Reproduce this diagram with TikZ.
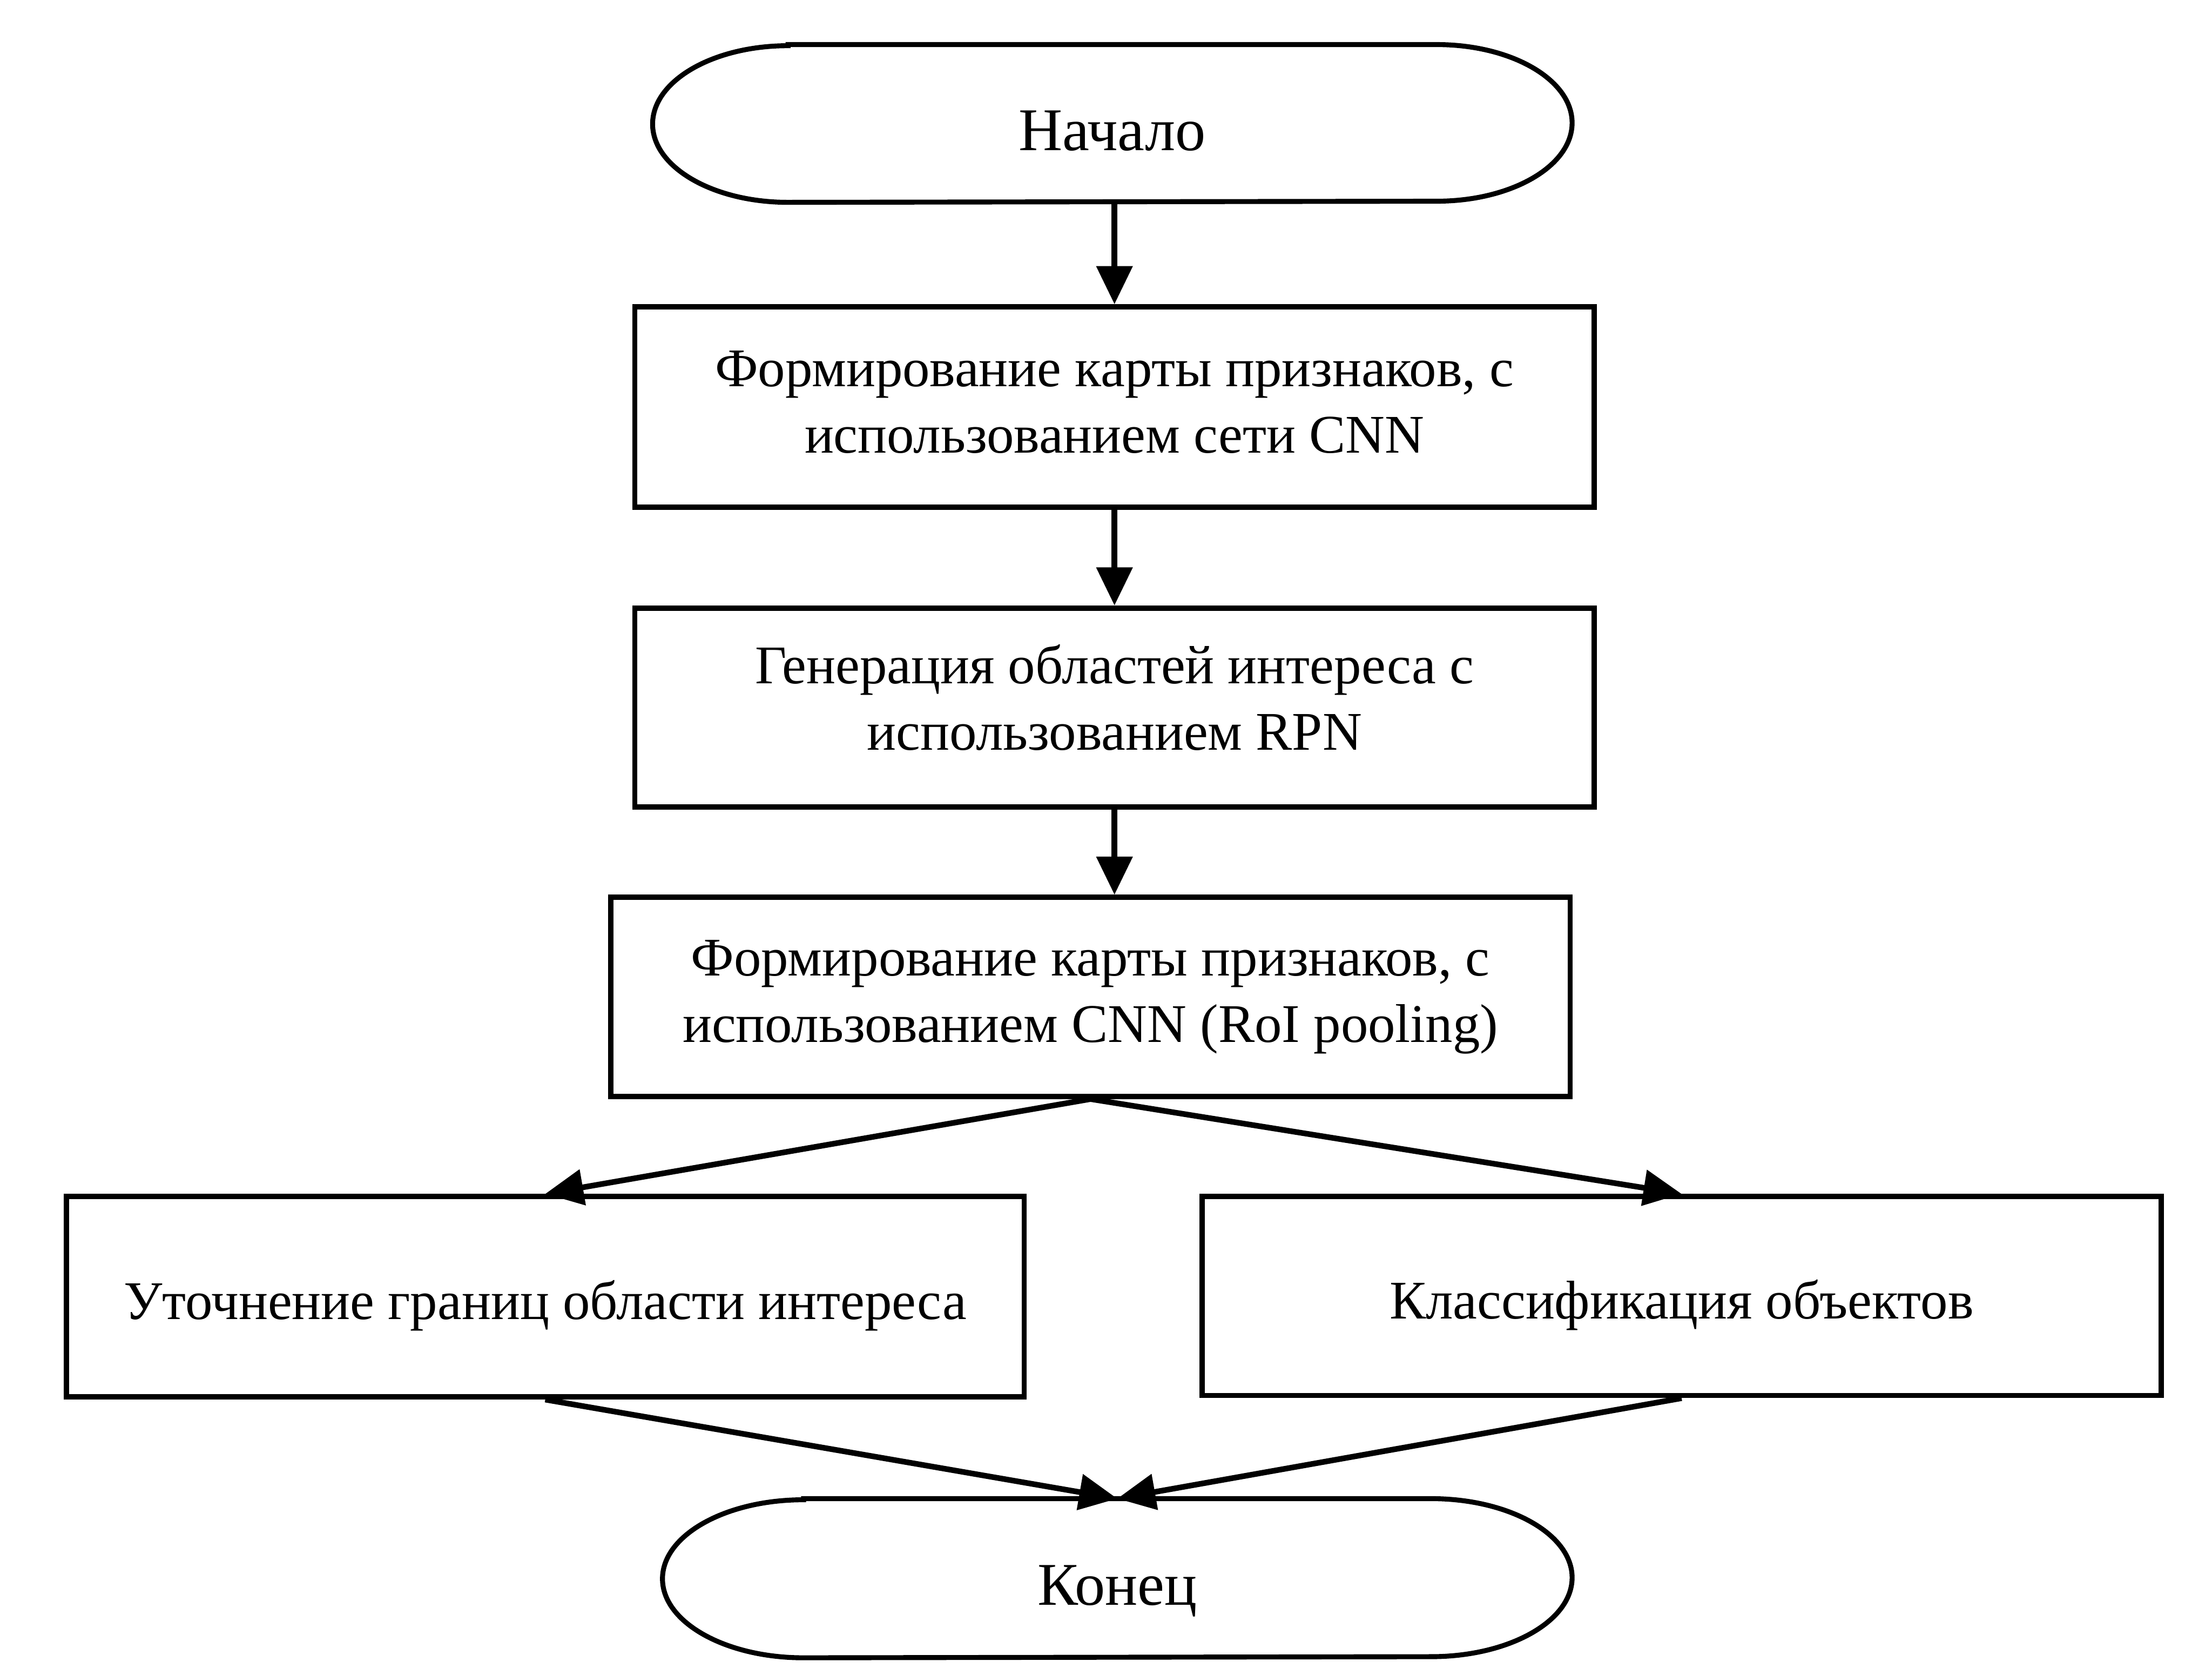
\documentclass[tikz,border=0pt]{standalone}
\usepackage{fontspec}
\setmainfont{Liberation Serif}
\usetikzlibrary{arrows.meta}
\newcommand{\termoutline}[3]{%
  \draw[line width=1.75pt] ([xshift=#2]#1.north west) -- ([xshift=-#2]#1.north east)
    arc[start angle=90,end angle=-90,x radius=#2,y radius=#3]
    -- ([xshift=#2]#1.south west)
    arc[start angle=270,end angle=90,x radius=#2,y radius=#3] -- cycle;}
\begin{document}
\begin{tikzpicture}[x=0.5pt,y=-0.5pt,
  proc/.style={draw=black,line width=1.9pt,minimum width=340pt,minimum height=71pt,inner sep=0pt},
  ptext/.style={inner sep=0pt,align=center,font=\fontsize{19.3}{23.5}\selectfont},
  term/.style={inner sep=0pt,text height=19pt,text depth=0pt,font=\fontsize{21.5}{26}\selectfont},
  conn/.style={line width=2pt,-{Triangle[length=13.5pt,width=12.5pt]}},
]
\useasboundingbox (0,0) rectangle (1568,1187.1);
\node[term,minimum width=325.5pt,minimum height=55.5pt] (start) at (788.5,87.5) {Начало};
\termoutline{start}{48pt}{27.75pt}
\node[proc] (b1) at (790,288.5) {};
\node[ptext] (b1t) at (790,285) {Формирование карты признаков, с\\использованием сети CNN};
\node[proc,minimum height=70.5pt] (b2) at (790,501.5) {};
\node[ptext] (b2t) at (790,494.5) {Генерация областей интереса с\\использованием RPN};
\node[proc,minimum height=70.5pt] (b3) at (773,706.5) {};
\node[ptext] (b3t) at (773,706.5) {Формирование карты признаков, с\\использованием CNN (RoI pooling)};
\node[proc,minimum width=339.5pt] (b4) at (386.5,919) {};
\node[ptext,text height=16pt,text depth=0pt] (b4t) at (386.5,919) {Уточнение границ области интереса};
\node[proc,minimum height=70.5pt] (b5) at (1192,918.5) {};
\node[ptext,text height=16pt,text depth=0pt] (b5t) at (1192,918.5) {Классификация объектов};
\node[term,minimum width=322pt,minimum height=56pt] (end) at (792,1118.5) {Конец};
\termoutline{end}{50pt}{28pt}
\draw[conn] (b1.north |- start.south) -- (b1.north);
\draw[conn] (b1.south) -- (b2.north);
\draw[conn] (b2.south) -- (b2.south |- b3.north);
\draw[conn] (b3.south) -- (b4.north);
\draw[conn] (b3.south) -- (b5.north);
\draw[conn] (b4.south) -- (end.north);
\draw[conn] (b5.south) -- (end.north);
\end{tikzpicture}
\end{document}
